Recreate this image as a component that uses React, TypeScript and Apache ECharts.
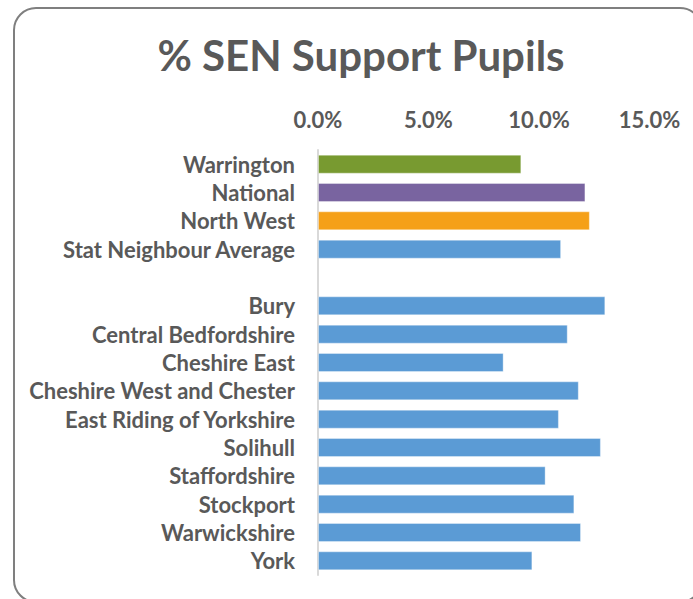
import React, { useEffect, useRef } from "react";
import * as echarts from "echarts";

const categories = [
  "Warrington",
  "National",
  "North West",
  "Stat Neighbour Average",
  "",
  "Bury",
  "Central Bedfordshire",
  "Cheshire East",
  "Cheshire West and Chester",
  "East Riding of Yorkshire",
  "Solihull",
  "Staffordshire",
  "Stockport",
  "Warwickshire",
  "York",
];

const senSupport: (number | null)[] = [
  9.2, 12.1, 12.3, 11.0, null, 13.0, 11.3, 8.4, 11.8, 10.9, 12.8, 10.3, 11.6, 11.9, 9.7,
];

const tickValues = [0, 5, 10, 15];

const barColors = [
  "#789A30", "#7964A0", "#F5A018", "#5B9BD5", "#5B9BD5",
  "#5B9BD5", "#5B9BD5", "#5B9BD5", "#5B9BD5", "#5B9BD5",
  "#5B9BD5", "#5B9BD5", "#5B9BD5", "#5B9BD5", "#5B9BD5",
];

const FONT = "Lato";
const TEXT = "#595959";

export default function App() {
  const ref = useRef<HTMLDivElement>(null);

  useEffect(() => {
    if (!ref.current) return;
    const chart = echarts.init(ref.current, null, { renderer: "svg" });
    chart.setOption({
      animation: false,
      backgroundColor: "#ffffff",
      graphic: [
        {
          type: "rect",
          shape: { x: 14, y: 8, width: 688, height: 594, r: 22 },
          style: { fill: "none", stroke: "#7f7f7f", lineWidth: 2 },
          silent: true,
        },
        {
          type: "text",
          x: 361,
          y: 55,
          style: {
            text: "% SEN Support Pupils",
            fill: TEXT,
            font: `bold 42px ${FONT}`,
            textAlign: "center",
            textVerticalAlign: "middle",
          },
        },
      ],
      grid: { left: 318, right: 43.5, top: 150, bottom: 24, containLabel: false },
      xAxis: {
        type: "value",
        position: "top",
        min: tickValues[0],
        max: tickValues[tickValues.length - 1],
        interval: 5,
        axisLine: { show: false },
        axisTick: { show: false },
        splitLine: { show: false },
        axisLabel: {
          color: TEXT,
          fontFamily: FONT,
          fontWeight: "bold",
          fontSize: 22,
          margin: 20,
          formatter: (v: number) => v.toFixed(1) + "%",
        },
      },
      yAxis: {
        type: "category",
        inverse: true,
        data: categories,
        axisLine: { show: true, lineStyle: { color: "#d9d9d9", width: 2 } },
        axisTick: { show: false },
        axisLabel: {
          interval: 0,
          color: TEXT,
          fontFamily: FONT,
          fontWeight: "bold",
          fontSize: 22,
          margin: 23,
        },
      },
      series: [
        {
          type: "bar",
          data: senSupport,
          barCategoryGap: "33%",
          itemStyle: {
            color: (p: any) => barColors[p.dataIndex],
            borderColor: "rgba(255,255,255,0.35)",
            borderWidth: 1,
          },
        },
      ],
    });
    return () => chart.dispose();
  }, []);

  return (
    <div
      ref={ref}
      style={{ position: "absolute", left: 0, top: 0, width: 693, height: 599 }}
    />
  );
}
